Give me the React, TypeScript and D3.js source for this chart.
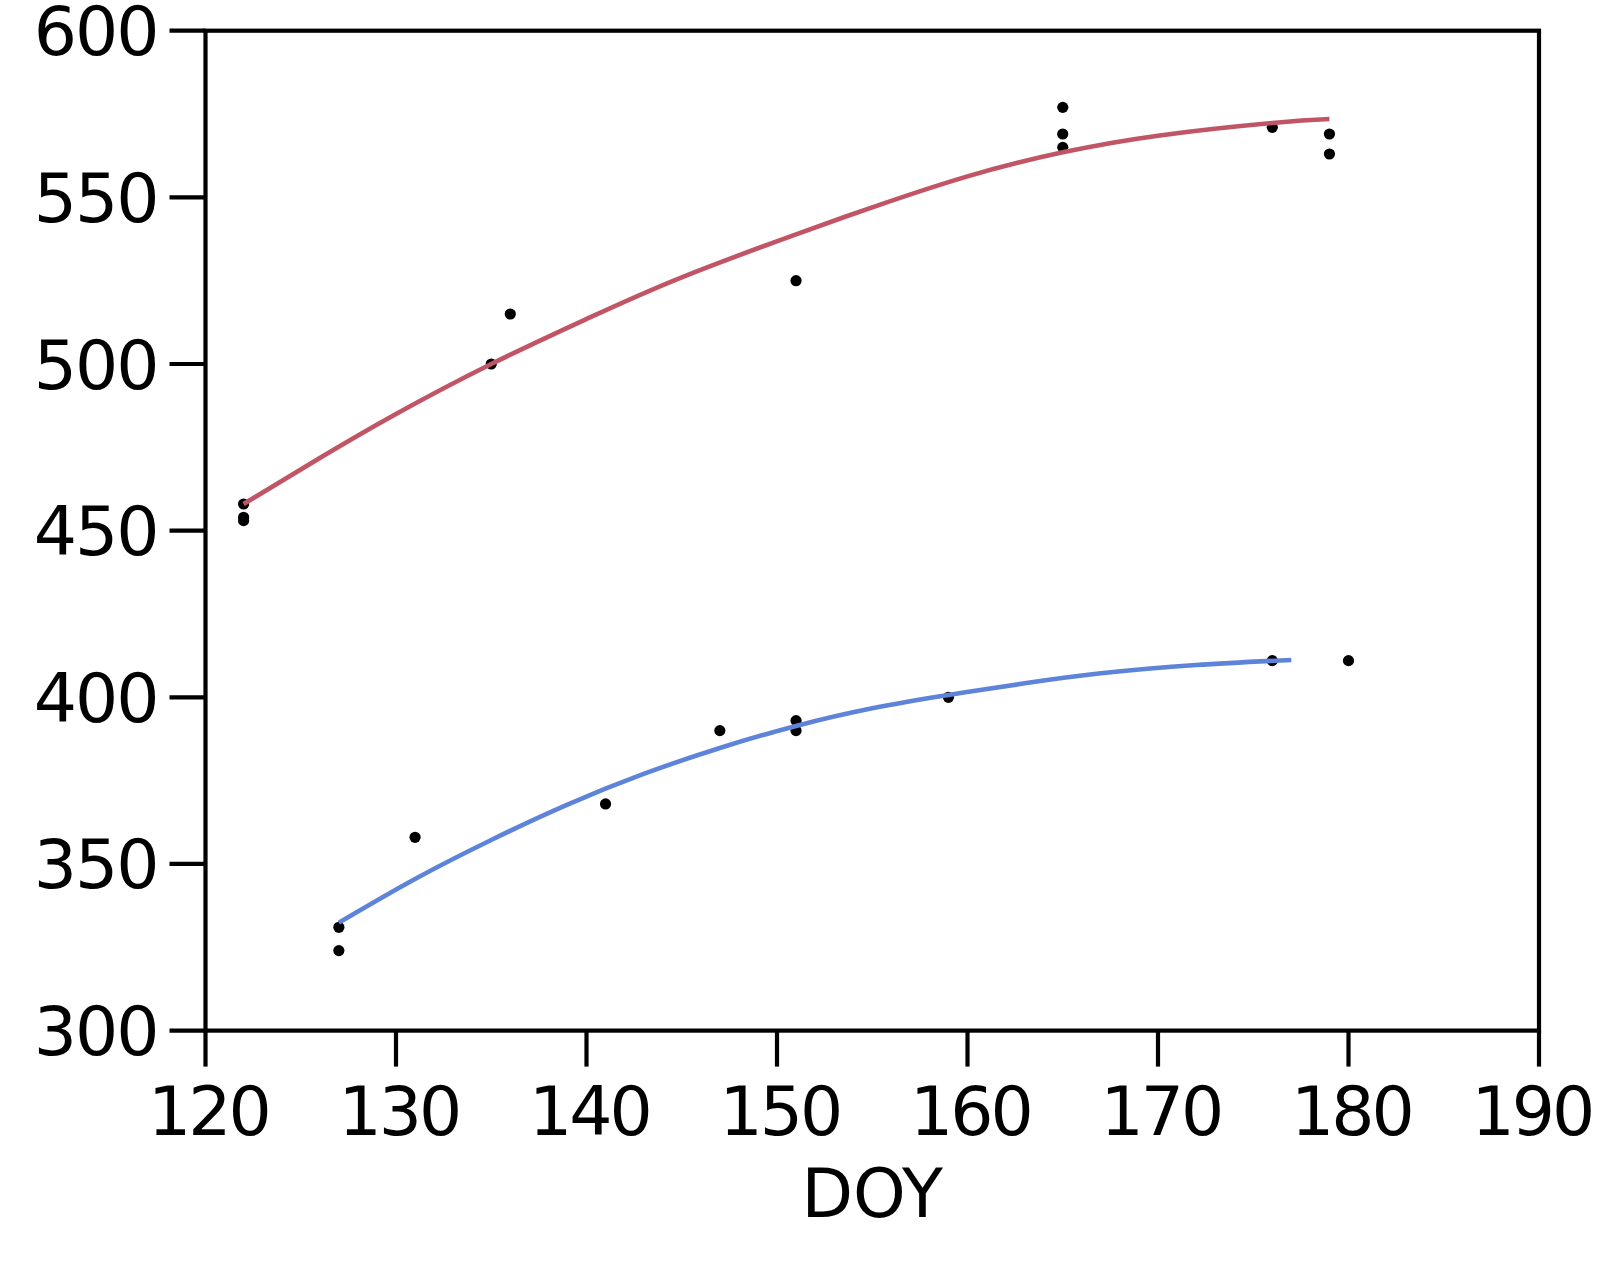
import React from "react";
import * as d3 from "d3";

// ---- data ----
const xTicks = [120, 130, 140, 150, 160, 170, 180, 190];
const yTicks = [300, 350, 400, 450, 500, 550, 600];

// observations (DOY, value)
const highDOY = [122, 122, 122, 135, 136, 151, 165, 165, 165, 176, 179, 179];
const highVal = [458, 454, 453, 500, 515, 525, 577, 569, 565, 571, 569, 563];
const lowDOY = [127, 127, 131, 141, 147, 151, 151, 159, 176, 180];
const lowVal = [331, 324, 358, 368, 390, 393, 390, 400, 411, 411];

// fitted curves
const highFitDOY = [122, 126, 130, 135, 140, 145, 151, 155, 160, 165, 170, 176, 179];
const highFitVal = [458, 471.8, 485, 500, 513.5, 526, 538.9, 547.0, 556.3, 563.5, 568.5, 572.3, 573.5];
const lowFitDOY = [127, 131, 135, 139, 143, 147, 151, 155, 159, 163, 167, 172, 177];
const lowFitVal = [332.4, 345.5, 357.2, 367.8, 377.0, 384.8, 391.4, 396.7, 400.7, 404.2, 407.2, 409.7, 411.2];

const W = 1600;
const H = 1268;
const left = 205.5;
const right = 1539;
const top = 30.7;
const bottom = 1030.6;
const font = "'DejaVu Sans', Verdana, sans-serif";

export default function App() {
  const x = d3.scaleLinear().domain([120, 190]).range([left, right]);
  const y = d3.scaleLinear().domain([300, 600]).range([bottom, top]);
  const line = d3
    .line<[number, number]>()
    .x((d) => x(d[0]))
    .y((d) => y(d[1]))
    .curve(d3.curveNatural);

  const highFit = highFitDOY.map((d, i) => [d, highFitVal[i]] as [number, number]);
  const lowFit = lowFitDOY.map((d, i) => [d, lowFitVal[i]] as [number, number]);
  const pts = [
    ...highDOY.map((d, i) => [d, highVal[i]]),
    ...lowDOY.map((d, i) => [d, lowVal[i]]),
  ];
  const lastTick = xTicks[xTicks.length - 1];

  return (
    <svg
      width={W}
      height={H}
      style={{ position: "absolute", left: 0, top: 0, background: "#fff" }}
    >
      {/* points */}
      {pts.map((p, i) => (
        <circle key={i} cx={x(p[0])} cy={y(p[1])} r={5.6} fill="#000" />
      ))}
      {/* fitted curves */}
      <path d={line(highFit) || ""} fill="none" stroke="#c15566" strokeWidth={4.6} />
      <path d={line(lowFit) || ""} fill="none" stroke="#5e84da" strokeWidth={4.6} />

      {/* frame */}
      <rect
        x={left}
        y={top}
        width={right - left}
        height={bottom - top}
        fill="none"
        stroke="#000"
        strokeWidth={4.2}
      />
      {/* y ticks */}
      {yTicks.map((t) => (
        <g key={"y" + t}>
          <line x1={left - 36} x2={left} y1={y(t)} y2={y(t)} stroke="#000" strokeWidth={4.2} />
          <text
            x={left - 48}
            y={y(t) + 24.5}
            textAnchor="end"
            fontFamily={font}
            fontSize={68}
            letterSpacing={-2}
            fill="#000"
          >
            {t}
          </text>
        </g>
      ))}
      {/* x ticks */}
      {xTicks.map((t) => (
        <g key={"x" + t}>
          <line x1={x(t)} x2={x(t)} y1={bottom} y2={bottom + 36} stroke="#000" strokeWidth={4.2} />
          <text
            x={x(t) + (t === lastTick ? -7 : 3)}
            y={1135}
            textAnchor="middle"
            fontFamily={font}
            fontSize={68}
            letterSpacing={-3}
            fill="#000"
          >
            {t}
          </text>
        </g>
      ))}
      <text
        x={(left + right) / 2}
        y={1217}
        textAnchor="middle"
        fontFamily={font}
        fontSize={67}
        fill="#000"
      >
        DOY
      </text>
    </svg>
  );
}
